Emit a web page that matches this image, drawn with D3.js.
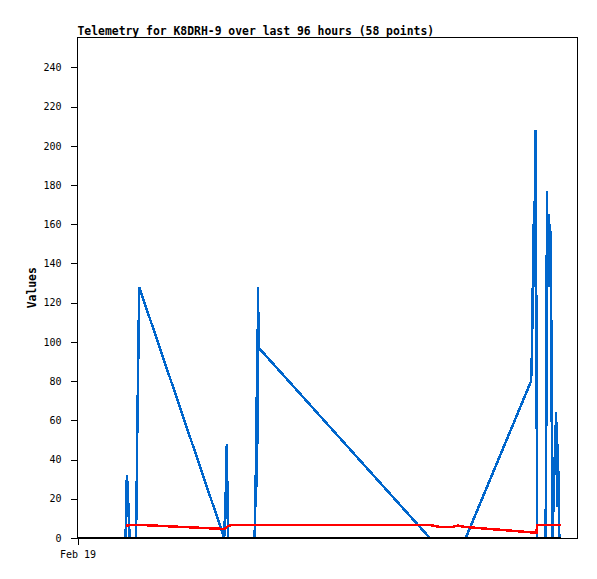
<!DOCTYPE html>
<html>
<head>
<meta charset="utf-8">
<script src="https://cdn.jsdelivr.net/npm/d3@7"></script>
<style>
  body { margin: 0; background: #fff; }
  svg { display: block; }
</style>
</head>
<body>
<div id="chart"></div>
<script>
// hours since Feb 19 00:00 for each packet
var hours = [10.62, 10.73, 10.90, 11.08, 11.23, 11.50, 12.91, 13.04, 13.22, 13.44, 13.61,
    32.38, 32.73, 32.95, 33.08, 33.22, 34.14,
    39.10, 39.27, 39.43, 39.56, 39.69, 39.82, 40.00,
    77.75, 79.96, 82.60, 83.92, 85.68,
    100.11, 100.31, 100.48, 100.66, 100.81, 100.97, 101.12, 101.28, 101.45,
    103.30, 103.44, 103.61, 103.81, 103.96, 104.14, 104.32, 104.54, 104.71, 104.89,
    105.11, 105.33, 105.64, 105.84, 106.01, 106.34, 106.72];

var blueValues = [0, 16, 32, 26, 16, 0, 0, 20, 60, 96, 128,
    0, 24, 48, 24, 0, 0,
    0, 32, 16, 72, 48, 128, 97,
    0, 0, 0, 0, 0,
    80, 96, 128, 160, 128, 192, 208, 104, 0,
    0, 44, 177, 132, 165, 128, 160, 120, 40, 0,
    26, 41, 64, 16, 48, 0, 0];

var redValues = [6.7, 6.7, 6.4, 6.3, 6.5, 6.7, 6.7, 6.7, 6.7, 6.7, 6.7,
    4.6, 5.0, 5.4, 5.8, 6.0, 6.7,
    6.7, 6.7, 6.7, 6.7, 6.7, 6.7, 6.7,
    6.7, 5.6, 5.6, 6.3, 5.6,
    2.9, 2.9, 2.9, 2.9, 2.9, 2.9, 2.9, 2.9, 6.5,
    6.7, 6.7, 6.7, 6.7, 6.7, 6.7, 6.7, 6.7, 6.7, 6.7,
    6.7, 6.7, 6.7, 6.7, 6.7, 6.7, 6.7];

var yTicks = [0, 20, 40, 60, 80, 100, 120, 140, 160, 180, 200, 220, 240];
var xTickHours = [0];
var xTickLabels = ['Feb 19'];

var title = 'Telemetry for K8DRH-9 over last 96 hours (58 points)';

var width = 597;
var height = 579;
var plotLeft = 77.5, plotRight = 577.5, plotTop = 37.5, plotBottom = 538;

var svg = d3.select('#chart')
    .append('svg')
    .attr('width', width)
    .attr('height', height);

var x = d3.scaleLinear()
    .domain([0, 110.35])
    .range([plotLeft, plotRight]);

var y = d3.scaleLinear()
    .domain([0, 255])
    .range([plotBottom, plotTop + 0.5]);

// frame
svg.append('rect')
    .attr('x', plotLeft)
    .attr('y', plotTop)
    .attr('width', plotRight - plotLeft)
    .attr('height', plotBottom - plotTop)
    .attr('fill', 'none')
    .attr('stroke', '#000')
    .attr('stroke-width', 1)
    .attr('shape-rendering', 'crispEdges');

var yAxis = d3.axisLeft(y)
    .tickValues(yTicks)
    .tickSize(7)
    .tickPadding(9)
    .tickSizeOuter(0);

var gy = svg.append('g')
    .attr('transform', 'translate(' + plotLeft + ',0)')
    .call(yAxis);
gy.select('.domain').remove();
gy.selectAll('line').attr('shape-rendering', 'crispEdges');
gy.selectAll('text')
    .attr('font-family', 'DejaVu Sans Mono, monospace')
    .attr('font-size', '10px')
    .attr('fill', '#000');

var xAxis = d3.axisBottom(x)
    .tickValues(xTickHours)
    .tickFormat(function (d, i) {return xTickLabels[i];})
    .tickSize(7)
    .tickPadding(6)
    .tickSizeOuter(0);

var gx = svg.append('g')
    .attr('transform', 'translate(0,' + plotBottom + ')')
    .call(xAxis);
gx.select('.domain').remove();
gx.selectAll('line').attr('shape-rendering', 'crispEdges');
gx.selectAll('text')
    .attr('font-family', 'DejaVu Sans Mono, monospace')
    .attr('font-size', '10px')
    .attr('fill', '#000');

var line = d3.line()
    .x(function (d) {return x(d.h);})
    .y(function (d) {return y(d.v);});

var blue = hours.map(function (h, i) {return {h: h, v: blueValues[i]};});
var red = hours.map(function (h, i) {return {h: h, v: redValues[i]};});
var zero = [{h: 0, v: 0}].concat(hours.map(function (h) {return {h: h, v: 0};}));

svg.append('path')
    .datum(blue)
    .attr('d', line)
    .attr('fill', 'none')
    .attr('stroke', '#0066cc')
    .attr('stroke-width', 2.5)
    .attr('shape-rendering', 'crispEdges');

svg.append('path')
    .datum(red)
    .attr('d', line)
    .attr('fill', 'none')
    .attr('stroke', '#ff0000')
    .attr('stroke-width', 2.5)
    .attr('shape-rendering', 'crispEdges');

svg.append('path')
    .datum(zero)
    .attr('d', line)
    .attr('fill', 'none')
    .attr('stroke', '#000')
    .attr('stroke-width', 2)
    .attr('shape-rendering', 'crispEdges');

svg.append('text')
    .attr('x', plotLeft)
    .attr('y', 35)
    .attr('font-family', 'DejaVu Sans Mono, monospace')
    .attr('font-weight', 'bold')
    .attr('font-size', '11.4px')
    .text(title);

svg.append('text')
    .attr('transform', 'translate(36,' + ((plotTop + plotBottom) / 2) + ') rotate(-90)')
    .attr('text-anchor', 'middle')
    .attr('font-family', 'DejaVu Sans Mono, monospace')
    .attr('font-weight', 'bold')
    .attr('font-size', '11.4px')
    .text('Values');
</script>
</body>
</html>
